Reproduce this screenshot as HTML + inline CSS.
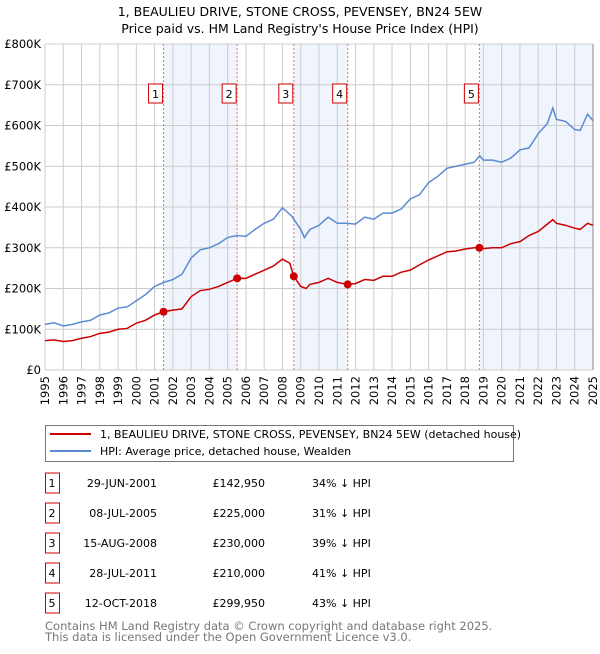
<!DOCTYPE html>
<html><head><meta charset="utf-8"><style>
body{margin:0;background:#fff;font-family:"DejaVu Sans","Liberation Sans",sans-serif;}
svg text{font-family:"DejaVu Sans","Liberation Sans",sans-serif;}
</style></head><body>
<svg id="c" width="600" height="650" xmlns="http://www.w3.org/2000/svg">
<text x="300" y="16" text-anchor="middle" font-size="12.5">1, BEAULIEU DRIVE, STONE CROSS, PEVENSEY, BN24 5EW</text>
<text x="300" y="33" text-anchor="middle" font-size="12.5">Price paid vs. HM Land Registry's House Price Index (HPI)</text>
<g id="plot"></g>
<rect x="45.5" y="425.5" width="468" height="36" fill="#fff" stroke="#777"/>
<line x1="50" y1="434" x2="91" y2="434" stroke="#cc0000" stroke-width="2"/>
<text x="100" y="438" font-size="11">1, BEAULIEU DRIVE, STONE CROSS, PEVENSEY, BN24 5EW (detached house)</text>
<line x1="50" y1="451" x2="91" y2="451" stroke="#5b8bd0" stroke-width="2"/>
<text x="100" y="455" font-size="11">HPI: Average price, detached house, Wealden</text>
<g id="tbl"></g>
<text x="45" y="630" font-size="11.5" fill="#777">Contains HM Land Registry data © Crown copyright and database right 2025.</text>
<text x="45" y="641" font-size="11.5" fill="#777">This data is licensed under the Open Government Licence v3.0.</text>
</svg>
<script>
const hpiYears=[1995,1995.5,1996,1996.5,1997,1997.5,1998,1998.5,1999,1999.5,2000,2000.5,2001,2001.5,2002,2002.5,2003,2003.5,2004,2004.5,2005,2005.5,2006,2006.5,2007,2007.5,2008,2008.5,2009,2009.2,2009.5,2010,2010.5,2011,2011.5,2012,2012.5,2013,2013.5,2014,2014.5,2015,2015.5,2016,2016.5,2017,2017.5,2018,2018.5,2018.8,2019,2019.5,2020,2020.5,2021,2021.5,2022,2022.5,2022.8,2023,2023.5,2024,2024.3,2024.7,2025];
const hpiValues=[112,116,108,112,118,122,135,140,152,155,170,185,205,215,222,235,275,295,300,310,325,330,328,345,360,370,398,378,345,325,345,355,375,360,360,358,375,370,385,385,395,420,430,460,475,495,500,505,510,526,515,515,510,520,540,545,580,605,643,615,610,590,588,628,612];
const priceYears=[1995,1995.5,1996,1996.5,1997,1997.5,1998,1998.5,1999,1999.5,2000,2000.5,2001,2001.49,2002,2002.5,2003,2003.5,2004,2004.5,2005,2005.52,2006,2006.5,2007,2007.5,2008,2008.4,2008.62,2009,2009.3,2009.5,2010,2010.5,2011,2011.57,2012,2012.5,2013,2013.5,2014,2014.5,2015,2015.5,2016,2016.5,2017,2017.5,2018,2018.5,2018.78,2019,2019.5,2020,2020.5,2021,2021.5,2022,2022.5,2022.8,2023,2023.5,2024,2024.3,2024.7,2025];
const priceValues=[72,74,70,72,78,82,90,93,100,102,115,122,135,143,147,150,180,195,198,205,215,225,225,235,245,255,272,262,230,205,200,210,215,225,215,210,212,222,220,230,230,240,245,258,270,280,290,292,297,300,300,298,300,300,310,315,330,340,358,369,360,355,348,345,360,355];
const saleYears=[2001.49,2005.52,2008.62,2011.57,2018.78];
const saleValues=[142.95,225,230,210,299.95];
const saleLabels=["1","2","3","4","5"];
const saleDates=["29-JUN-2001","08-JUL-2005","15-AUG-2008","28-JUL-2011","12-OCT-2018"];
const salePrices=["£142,950","£225,000","£230,000","£210,000","£299,950"];
const salePcts=["34% ↓ HPI","31% ↓ HPI","39% ↓ HPI","41% ↓ HPI","43% ↓ HPI"];
const yTicks=[0,100,200,300,400,500,600,700,800];
const yTickLabels=["£0","£100K","£200K","£300K","£400K","£500K","£600K","£700K","£800K"];
const xTicks=[1995,1996,1997,1998,1999,2000,2001,2002,2003,2004,2005,2006,2007,2008,2009,2010,2011,2012,2013,2014,2015,2016,2017,2018,2019,2020,2021,2022,2023,2024,2025];

const X0=45,X1=593,Y0=370,Y1=44;
const x=v=>X0+(v-1995)/30*(X1-X0);
const y=v=>Y0-v/800*(Y0-Y1);
const NS="http://www.w3.org/2000/svg";
const plot=document.getElementById('plot');
function mk(tag,attrs,parent){const e=document.createElementNS(NS,tag);for(const k in attrs)e.setAttribute(k,attrs[k]);(parent||plot).appendChild(e);return e;}

const spans=[[saleYears[0],saleYears[1]],[saleYears[2],saleYears[3]],[saleYears[4],2025]];
spans.forEach((s,i)=>{const r=mk('rect',{x:x(s[0]),y:Y1,width:x(s[1])-x(s[0]),height:Y0-Y1,fill:'#f0f4fc'});

});
xTicks.forEach((t,i)=>{const l=mk('line',{x1:x(t),y1:Y1,x2:x(t),y2:Y0,stroke:'#ccc','stroke-width':1});


const tx=mk('text',{x:0,y:0,'font-size':11.5,'text-anchor':'end',transform:`translate(${x(t)+4},${Y0+6}) rotate(-90)`});
tx.textContent=t;

});
yTicks.forEach((t,i)=>{const l=mk('line',{x1:X0,y1:y(t),x2:X1,y2:y(t),stroke:'#ccc','stroke-width':1});


const tx=mk('text',{x:X0-4,y:y(t)+4,'font-size':11.5,'text-anchor':'end'});
tx.textContent=yTickLabels[i];

});
const rb=mk('line',{x1:X1,y1:Y1,x2:X1,y2:Y0,stroke:'#888','stroke-width':1});


saleYears.forEach((s,i)=>{const l=mk('line',{x1:x(s),y1:Y1,x2:x(s),y2:Y0,stroke:'#f07070','stroke-width':1,'stroke-dasharray':'2,2'});


const b=mk('rect',{x:x(s)-15,y:84,width:14,height:19,fill:'#fff',stroke:'#cc0000','stroke-width':1});


const t=mk('text',{x:x(s)-8,y:98,'font-size':11,'text-anchor':'middle'});
t.textContent=saleLabels[i];

});
const hp=mk('polyline',{points:hpiYears.map((v,i)=>x(v)+','+y(hpiValues[i])).join(' '),fill:'none',stroke:'#5b8bd0','stroke-width':1.5});


const pp=mk('polyline',{points:priceYears.map((v,i)=>x(v)+','+y(priceValues[i])).join(' '),fill:'none',stroke:'#cc0000','stroke-width':1.5});


saleYears.forEach((s,i)=>{const c=mk('circle',{cx:x(s),cy:y(saleValues[i]),r:4,fill:'#cc0000'});

});
const tbl=document.getElementById('tbl');
saleLabels.forEach((lab,i)=>{const cy=483+i*30;
const b=mk('rect',{x:45.5,y:cy-10,width:14,height:20,fill:'#fff',stroke:'#cc0000'},tbl);


const cells=[[52,'middle',lab,'table-num'],[157,'end',saleDates[i],'table-date'],[265,'end',salePrices[i],'table-price'],[312,'start',salePcts[i],'table-hpi-diff']];
cells.forEach(c=>{const t=mk('text',{x:c[0],y:cy+4,'font-size':11,'text-anchor':c[1]},tbl);
t.textContent=c[2];

});});
</script>
</body></html>
